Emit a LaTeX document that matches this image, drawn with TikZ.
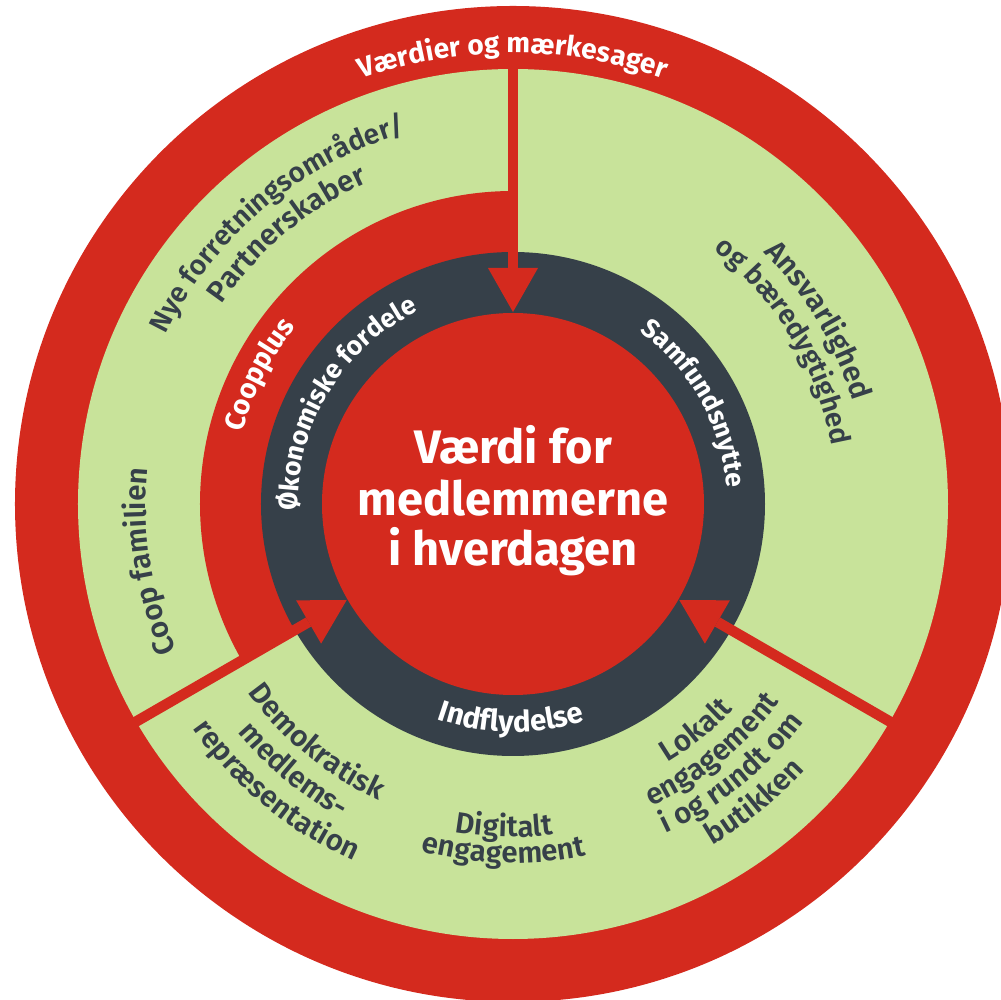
\documentclass[tikz,border=0pt]{standalone}
\usepackage{fontspec}
\setmainfont{Fira Sans}
\newfontfamily\firasemi{Fira Sans SemiBold}
\usetikzlibrary{decorations.text,calc}
\definecolor{coopred}{RGB}{212,42,30}
\definecolor{coopgreen}{RGB}{200,227,154}
\definecolor{coopdark}{RGB}{54,64,73}
\newcommand{\lblfont}{\firasemi\fontsize{29.5}{32}\selectfont}
\newcommand{\lblnarrow}{\firasemi\fontsize{28}{30}\selectfont}
\newcommand{\ringfont}{\bfseries\fontsize{28}{30}\selectfont}
\newcommand{\ringsmall}{\bfseries\fontsize{26.5}{28}\selectfont}
\newcommand{\ringwide}{\bfseries\fontsize{29.5}{31}\selectfont}
\newcommand{\ctrfont}{\bfseries\fontsize{47}{51}\selectfont}
% clockwise arc text (tops outward): radius, centre angle, colour, font, text
\newcommand{\cwtext}[5]{%
  \path[decorate,decoration={text along path,text align=center,text color=#3,text={|#4|#5}}]
    (#2+90:#1) arc[start angle=#2+90,end angle=#2-90,radius=#1];}
% counter-clockwise arc text (tops inward)
\newcommand{\ccwtext}[5]{%
  \path[decorate,decoration={text along path,text align=center,text color=#3,text={|#4|#5}}]
    (#2-90:#1) arc[start angle=#2-90,end angle=#2+90,radius=#1];}
\begin{document}
\begin{tikzpicture}[x=1pt,y=1pt,
  shaft/.style={draw=coopred,line width=10.5pt},
  headfill/.style={fill=coopred}]
\useasboundingbox (-513,-496) rectangle (488,504);
\fill[white] (-513,-496) rectangle (488,504);
\clip (-513,-496) rectangle (488,504);
% rings
\fill[coopred] (0,0) circle[radius=498];
\fill[coopgreen] (0,0) circle[radius=435];
\fill[coopred] (0,0) -- (90:313) arc[start angle=90,end angle=210,radius=313] -- cycle;
\fill[coopdark] (0,0) circle[radius=252];
\fill[coopred] (0,0) circle[radius=191];
% arrows
\foreach \a/\n in {90/1,210/2,330/3}{
  \coordinate (S\n) at (\a:436);
  \coordinate (B\n) at (\a:236);
  \coordinate (T\n) at (\a:192);
  \draw[shaft] (S\n) -- (B\n);
  \fill[headfill] (T\n) -- ($(B\n)!25pt!90:(T\n)$) -- ($(B\n)!25pt!-90:(T\n)$) -- cycle;
}
% centre text
\node[anchor=base,text=white,font=\ctrfont] (c1) at (0,40) {Værdi for};
\node[anchor=base,text=white,font=\ctrfont] (c2) at (0,-12) {medlemmerne};
\node[anchor=base,text=white,font=\ctrfont] (c3) at (0,-62) {i hverdagen};
% white ring texts
\cwtext{451}{90}{white}{\ringfont}{Værdier og mærkesager}
\cwtext{280}{153}{white}{\ringfont}{Coopplus}
\cwtext{215}{149}{white}{\ringsmall}{Økonomiske fordele}
\cwtext{214}{29}{white}{\ringsmall}{Samfundsnytte}
\ccwtext{228}{269.5}{white}{\ringwide}{Indflydelse}
% green labels
\cwtext{386}{130}{coopdark}{\lblnarrow}{Nye forretningsområder/}
\cwtext{353}{130}{coopdark}{\lblfont}{Partnerskaber}
\cwtext{367}{189}{coopdark}{\lblfont}{Coop familien}
\cwtext{355}{31}{coopdark}{\lblfont}{Ansvarlighed}
\cwtext{324}{31}{coopdark}{\lblnarrow}{og bæredygtighed}
\ccwtext{325}{230.5}{coopdark}{\lblfont}{Demokratisk}
\ccwtext{358}{230.5}{coopdark}{\lblfont}{medlems-}
\ccwtext{391}{230.5}{coopdark}{\lblfont}{repræsentation}
\ccwtext{333}{268.5}{coopdark}{\lblfont}{Digitalt}
\ccwtext{359}{268.5}{coopdark}{\lblfont}{engagement}
\ccwtext{301}{309}{coopdark}{\lblfont}{Lokalt}
\ccwtext{332}{309}{coopdark}{\lblfont}{engagement}
\ccwtext{363}{309}{coopdark}{\lblfont}{i og rundt om}
\ccwtext{395}{309}{coopdark}{\lblfont}{butikken}
\end{tikzpicture}
\end{document}
